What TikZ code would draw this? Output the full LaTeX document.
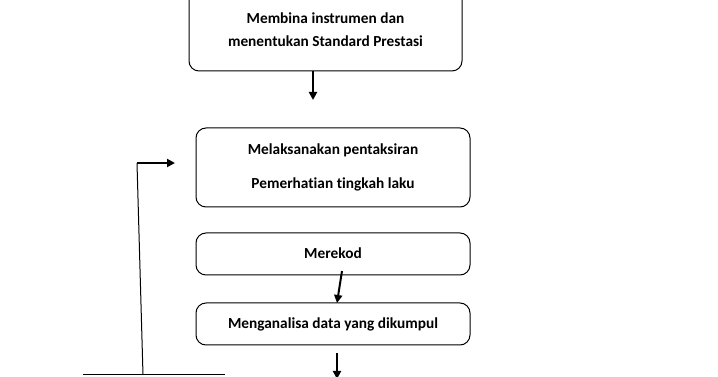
\documentclass[tikz,border=0pt]{standalone}
\usepackage{fontspec}
\setmainfont[Ligatures={NoCommon}]{Carlito}
\usetikzlibrary{arrows.meta}
\begin{document}
\begin{tikzpicture}[x=0.75pt,y=-0.75pt,
  box/.style={draw=black,line width=0.75pt,rounded corners=7.5pt,align=center,
    font=\fontsize{11.5}{14}\selectfont\bfseries,inner sep=0pt},
  arr/.style={line width=1.5pt,-{Triangle[width=6pt,length=6pt]}},
  thin/.style={line width=0.75pt}]
\clip (0,0) rectangle (718,377);
\fill[white] (0,0) rectangle (718,377);
\node[box,minimum width=204.75pt,minimum height=61.5pt] (b1) at (325.5,30)
  {Membina instrumen dan\\[3.25pt]menentukan Standard Prestasi};
\node[box,minimum width=205.5pt,minimum height=59.25pt] (b2) at (333,167.5)
  {Melaksanakan pentaksiran\\[12pt]Pemerhatian tingkah laku};
\node[box,minimum width=205.5pt,minimum height=31.5pt] (b3) at (333,254)
  {\raisebox{2pt}{Merekod}};
\node[box,minimum width=205.5pt,minimum height=31.5pt] (b4) at (333,324)
  {\raisebox{1pt}{Menganalisa data yang dikumpul}};
% arrow b1 -> b2
\coordinate (a1) at (313,100);
\draw[arr] (a1 |- b1.south) -- (a1);
% arrow b3 -> b4
\coordinate (a2s) at (342,271);
\coordinate (a2e) at (337,303);
\draw[arr] (a2s) -- (a2e);
% arrow below b4
\coordinate (a3s) at (337,353);
\coordinate (a3e) at (337,379);
\draw[arr] (a3s) -- (a3e);
% feedback line
\coordinate (fb0) at (143,375);
\coordinate (fb1) at (137,163);
\coordinate (fb2) at (175,163);
\draw[thin] (fb0) -- (fb1);
\draw[arr] (fb1) -- (fb2);
% bottom horizontal line
\coordinate (h1) at (83,375);
\coordinate (h2) at (225,375);
\draw[thin] (h1) -- (h2);
\end{tikzpicture}
\end{document}
